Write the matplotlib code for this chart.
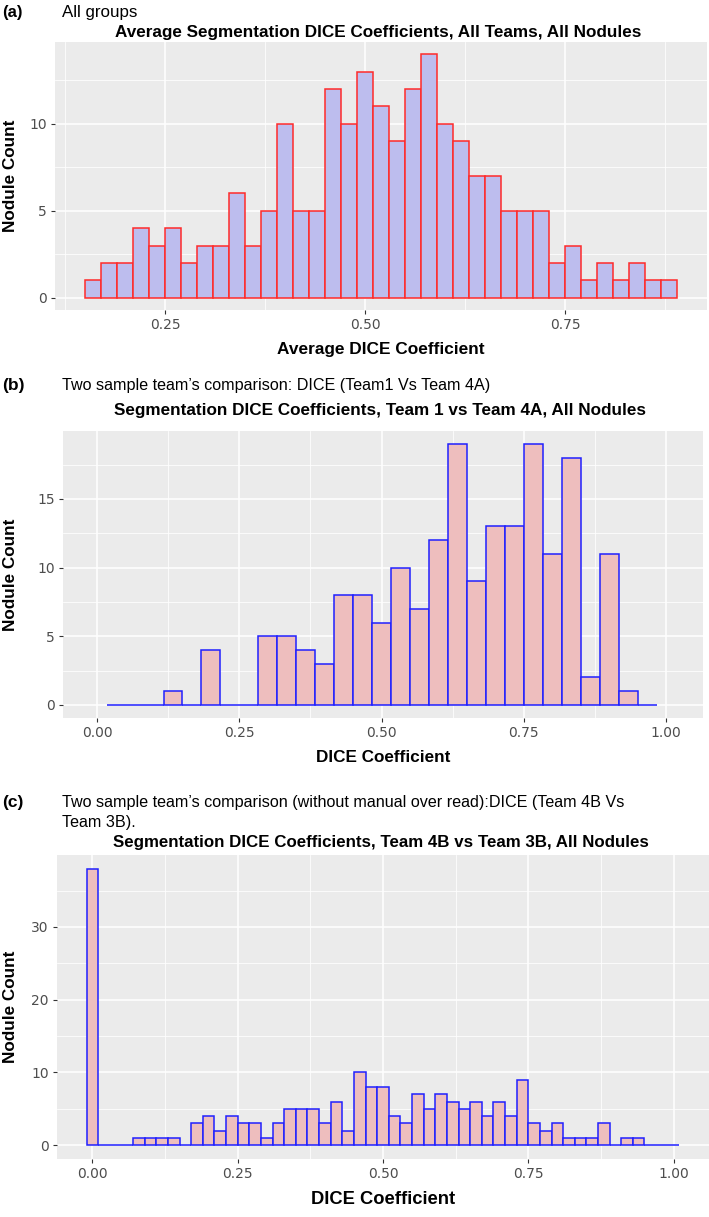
import numpy as np
import matplotlib
matplotlib.use("Agg")
import matplotlib.pyplot as plt

"""
Datos (conteos por bin leidos de la figura)
"""

# (a) average DICE, all teams: bins of 0.02 from 0.15
a_start, a_width = 0.15, 0.02
a_counts = [1, 2, 2, 4, 3, 4, 2, 3, 3, 6, 3, 5, 10, 5, 5, 12, 10, 13, 11,
            9, 12, 14, 10, 9, 7, 7, 5, 5, 5, 2, 3, 1, 2, 1, 2, 1, 1]

# (b) Team 1 vs Team 4A: bins of 1/30 from 1/60
b_start, b_width = 1 / 60, 1 / 30
b_counts = [0, 0, 0, 1, 0, 4, 0, 0, 5, 5, 4, 3, 8, 8, 6, 10, 7, 12, 19,
            9, 13, 13, 19, 11, 18, 2, 11, 1, 0]

# (c) Team 4B vs Team 3B: bins of 0.02 from -0.01
c_start, c_width = -0.01, 0.02
c_counts = [38, 0, 0, 0, 1, 1, 1, 1, 0, 3, 4, 2, 4, 3, 3, 1, 3, 5, 5, 5,
            3, 6, 2, 10, 8, 8, 4, 3, 7, 5, 7, 6, 5, 6, 4, 6, 4, 9, 3, 2,
            3, 1, 1, 1, 3, 0, 1, 1, 0, 0, 0]

x_ticks = [0.00, 0.25, 0.50, 0.75, 1.00]
x_ticks_a = [0.25, 0.50, 0.75]

W, H = 709, 1217
BG = "#EBEBEB"
TICK_COL = "#4D4D4D"
SANS = "Liberation Sans"


def rect(l, t, r, b):
    return [l / W, 1 - b / H, (r - l) / W, (b - t) / H]


def fy(y):
    return 1 - y / H


def histograma(ax, start, width, counts, fill, edge, xlim, ylim,
               xticks, yticks, xminor, yminor, xlabel, xsize):
    edges = start + width * np.arange(len(counts))
    ax.set_facecolor(BG)
    ax.bar(edges, counts, width=width, align="edge", color=fill,
           edgecolor=edge, linewidth=1.1, zorder=3)
    ax.set_xlim(*xlim)
    ax.set_ylim(*ylim)
    ax.set_xticks(xticks)
    ax.set_xticklabels([f"{t:.2f}" for t in xticks])
    ax.set_yticks(yticks)
    ax.set_xticks(xminor, minor=True)
    ax.set_yticks(yminor, minor=True)
    ax.grid(which="major", color="white", linewidth=1.1, zorder=0)
    ax.grid(which="minor", color="white", linewidth=0.55, zorder=0)
    ax.set_axisbelow(True)
    for s in ax.spines.values():
        s.set_visible(False)
    ax.tick_params(which="major", length=3, width=0.8, color="#333333",
                   labelcolor=TICK_COL, labelsize=10, pad=3)
    ax.tick_params(which="minor", length=0)
    for lab in ax.get_xticklabels() + ax.get_yticklabels():
        lab.set_family("DejaVu Sans")
    ax.set_xlabel(xlabel, fontsize=xsize, fontweight="bold",
                  family=SANS, labelpad=7)
    ax.set_ylabel("Nodule Count", fontsize=12.3, fontweight="bold",
                  family=SANS)


fig = plt.figure(figsize=(W / 100, H / 100), dpi=100)

# ---- (a)
ax1 = fig.add_axes(rect(55, 42, 707, 310))
histograma(ax1, a_start, a_width, a_counts, "#BDBDEE", "#FF2A2A",
           (0.1125, 0.927), (-0.7, 14.7), x_ticks_a, [0, 5, 10],
           [0.125, 0.375, 0.625, 0.875], [2.5, 7.5, 12.5],
           "Average DICE Coefficient", 12.4)
ax1.yaxis.set_label_coords((18 - 55) / 652, 0.5)
fig.text(378 / W, fy(32), "Average Segmentation DICE Coefficients, All Teams, All Nodules",
         ha="center", va="center", fontsize=12.3, fontweight="bold", family=SANS)
fig.text(2 / W, fy(12), "(a)", ha="left", va="center", fontsize=12,
         fontweight="bold", family=SANS)
fig.text(62 / W, fy(12), "All groups", ha="left", va="center", fontsize=12.2,
         family=SANS)

# ---- (b)
ax2 = fig.add_axes(rect(63, 431, 703, 718))
histograma(ax2, b_start, b_width, b_counts, "#EEBEBE", "#2020FF",
           (-0.06, 1.065), (-0.95, 19.95), x_ticks, [0, 5, 10, 15],
           [0.125, 0.375, 0.625, 0.875], [2.5, 7.5, 12.5, 17.5],
           "DICE Coefficient", 12.3)
ax2.yaxis.set_label_coords((18 - 63) / 640, 0.5)
fig.text(380 / W, fy(411), "Segmentation DICE Coefficients, Team 1 vs Team 4A, All Nodules",
         ha="center", va="center", fontsize=12.3, fontweight="bold", family=SANS)
fig.text(2 / W, fy(385), "(b)", ha="left", va="center", fontsize=12.5,
         fontweight="bold", family=SANS)
fig.text(62 / W, fy(385), "Two sample team\u2019s comparison: DICE (Team1 Vs Team 4A)",
         ha="left", va="center", fontsize=11.6, family=SANS)

# ---- (c)
ax3 = fig.add_axes(rect(57, 855, 709, 1159))
histograma(ax3, c_start, c_width, c_counts, "#EEBEBE", "#2020FF",
           (-0.061, 1.061), (-1.9, 39.9), x_ticks, [0, 10, 20, 30],
           [0.125, 0.375, 0.625, 0.875], [5, 15, 25, 35],
           "DICE Coefficient", 13.2)
ax3.yaxis.set_label_coords((18 - 57) / 652, 0.5)
fig.text(381 / W, fy(843), "Segmentation DICE Coefficients, Team 4B vs Team 3B, All Nodules",
         ha="center", va="center", fontsize=12.2, fontweight="bold", family=SANS)
fig.text(2 / W, fy(803), "(c)", ha="left", va="center", fontsize=12.5,
         fontweight="bold", family=SANS)
fig.text(62 / W, fy(803), "Two sample team\u2019s comparison (without manual over read):DICE (Team 4B Vs",
         ha="left", va="center", fontsize=11.6, family=SANS)
fig.text(62 / W, fy(822), "Team 3B).", ha="left", va="center", fontsize=11.6,
         family=SANS)

fig.savefig("out.png", dpi=100, facecolor="white")
